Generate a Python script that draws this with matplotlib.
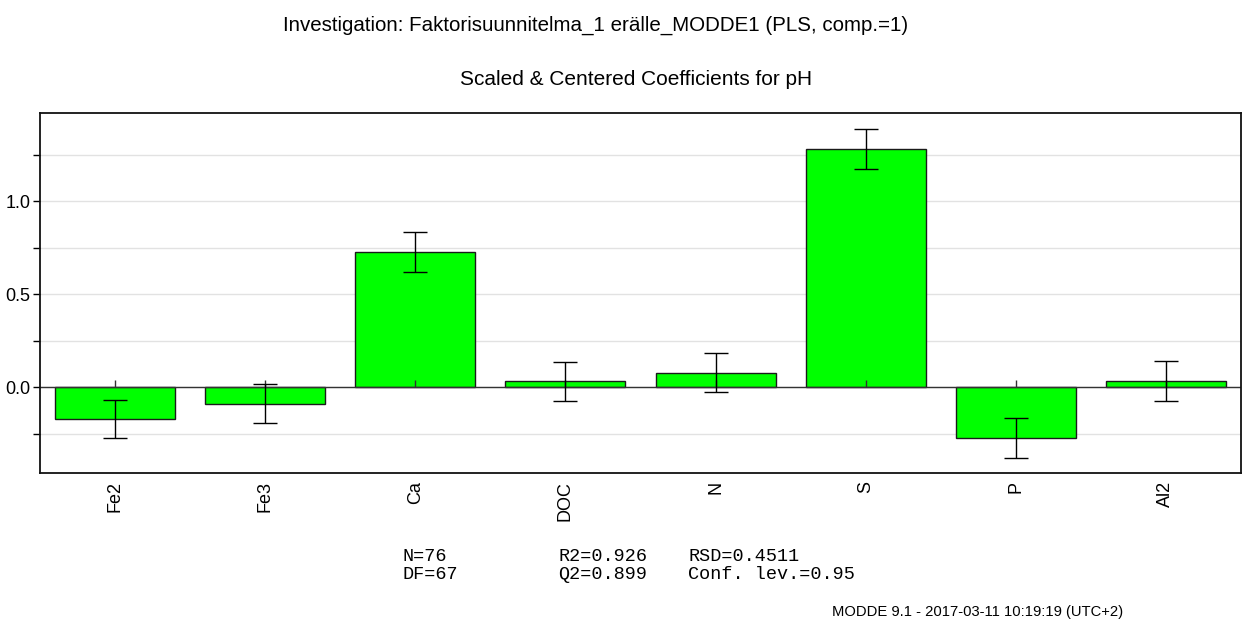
import matplotlib
matplotlib.use("Agg")
import matplotlib.pyplot as plt
import numpy as np

categories = ["Fe2", "Fe3", "Ca", "DOC", "N", "S", "P", "Al2"]
coefficients = [-0.172, -0.087, 0.727, 0.032, 0.080, 1.283, -0.272, 0.036]
conf_int = [0.102, 0.103, 0.107, 0.107, 0.107, 0.107, 0.106, 0.107]

title_main = "Investigation: Faktorisuunnitelma_1 erälle_MODDE1 (PLS, comp.=1)"
title_sub = "Scaled & Centered Coefficients for pH"
stats_rows = [("N=76", "R2=0.926", "RSD=0.4511"),
              ("DF=67", "Q2=0.899", "Conf. lev.=0.95")]
footer = "MODDE 9.1 - 2017-03-11 10:19:19 (UTC+2)"

W, H = 1242, 621
fig = plt.figure(figsize=(W / 100, H / 100), dpi=100)
plt.rcParams['font.family'] = ['Liberation Sans', 'DejaVu Sans']

ax = fig.add_axes([40 / W, 1 - 473 / H, (1241 - 40) / W, (473 - 113) / H])
x = np.arange(len(categories))

ax.set_xlim(-0.5, len(categories) - 0.5)
ax.set_ylim(-0.46, 1.475)

ax.set_yticks([0.0, 0.5, 1.0])
ax.set_yticklabels(["0.0", "0.5", "1.0"])
ax.set_yticks(np.arange(-0.25, 1.5, 0.25), minor=True)
ax.yaxis.grid(True, which='both', color='#e2e2e2', linewidth=1)
ax.set_axisbelow(True)
ax.tick_params(axis='y', which='both', direction='out', length=5, width=1,
               labelsize=13, pad=2)

ax.bar(x, coefficients, width=0.8, color='#00ff00', edgecolor='#1a1a1a',
       linewidth=1, zorder=2)
ax.errorbar(x, coefficients, yerr=conf_int, fmt='none', ecolor='black',
            elinewidth=1, capsize=8.6, capthick=1, zorder=3)
ax.axhline(0, color='#333333', linewidth=1, zorder=2.5)
ax.plot(x, np.zeros(len(x)), linestyle='none', marker=2, markersize=5,
        markeredgewidth=1, color='#333333', zorder=2.5)

ax.set_xticks(x)
ax.set_xticklabels(categories, rotation=90, fontsize=13)
ax.tick_params(axis='x', length=0, pad=5.5)

for s in ax.spines.values():
    s.set_linewidth(1.3)
    s.set_color('#111111')

fig.text(283 / W, 1 - 31 / H, title_main, ha='left', va='baseline', fontsize=14.8)
fig.text(460 / W, 1 - 85 / H, title_sub, ha='left', va='baseline', fontsize=15)

col_x = [403, 558, 688]
row_y = [561, 579]
for r, row in enumerate(stats_rows):
    for c, txt in enumerate(row):
        fig.text(col_x[c] / W, 1 - row_y[r] / H, txt, ha='left', va='baseline',
                 fontsize=13.3, family=['Liberation Mono', 'DejaVu Sans Mono'])

fig.text(1123 / W, 1 - 616 / H, footer, ha='right', va='baseline', fontsize=10.6)

fig.savefig("out.png", dpi=100)
